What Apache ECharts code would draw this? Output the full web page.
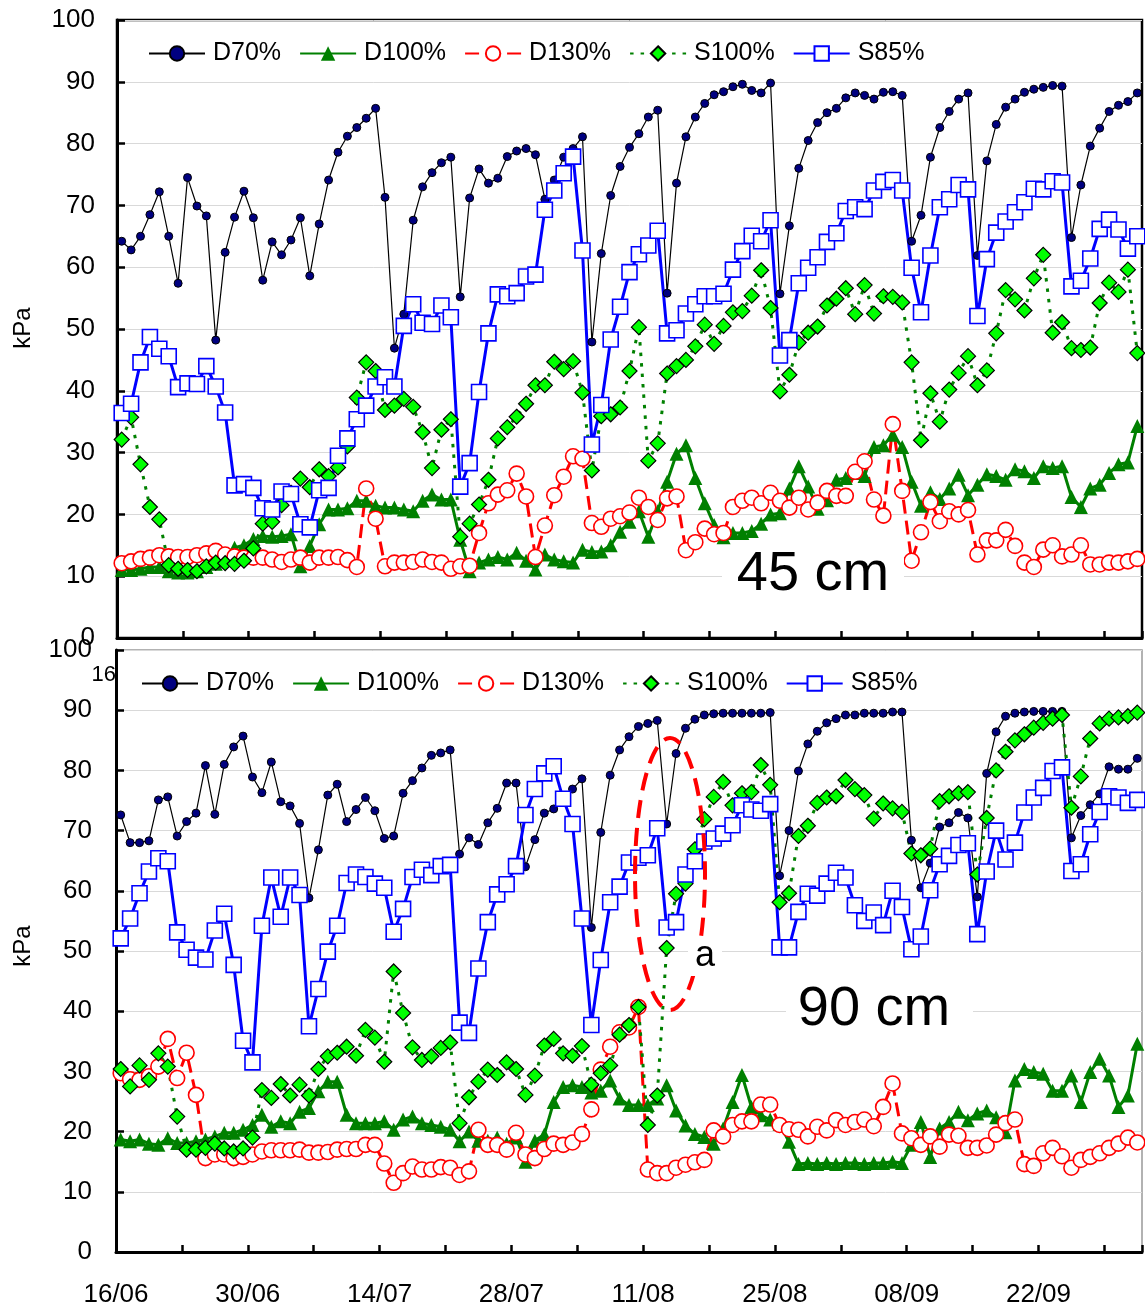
<!DOCTYPE html>
<html>
<head>
<meta charset="utf-8">
<script src="https://cdn.jsdelivr.net/npm/echarts@6/dist/echarts.min.js"></script>
<style>
html,body{margin:0;padding:0;background:#fff;}
#chart{width:1145px;height:1308px;}
</style>
</head>
<body>
<div id="chart"></div>
<script>
// x tick labels (every 14 days from 16/06)
const tickLabels = ['16/06','30/06','14/07','28/07','11/08','25/08','08/09','22/09'];
const seriesNames = ['D70%','D100%','D130%','S100%','S85%'];

// ---- 45 cm panel (daily values, day 0 = 16/06) ----
const top_D70 = [64.2,62.8,65.0,68.5,72.2,65.0,57.4,74.5,69.9,68.3,48.2,62.4,68.1,72.3,68.0,57.9,64.1,62.0,64.4,68.0,58.6,67.0,74.1,78.6,81.2,82.6,84.1,85.7,71.3,46.9,52.4,67.6,73.0,75.3,76.9,77.8,55.2,71.2,75.9,73.6,74.4,77.9,78.8,79.2,78.2,71.0,74.1,77.8,79.2,81.1,47.9,62.2,71.6,76.3,79.4,81.6,84.3,85.4,55.8,73.6,81.1,84.3,86.5,87.9,88.4,89.2,89.6,88.6,88.2,89.8,55.7,66.7,76.0,80.5,83.4,85.0,85.7,87.4,88.2,87.8,87.2,88.3,88.4,87.8,64.2,68.4,77.8,82.6,85.2,87.2,88.2,61.9,77.2,83.1,85.9,87.2,88.3,88.8,89.1,89.4,89.3,64.8,73.3,79.6,82.5,85.2,86.2,86.8,88.2];
const top_D100 = [11.0,11.0,11.2,11.5,11.5,10.8,10.6,10.6,10.8,11.5,12.0,13.0,14.6,15.0,16.0,16.5,16.4,16.5,16.8,11.6,14.9,18.4,20.8,20.8,21.0,22.2,22.2,21.4,21.1,21.1,20.8,20.5,22.2,23.2,22.4,22.4,15.9,10.8,12.2,12.7,13.1,12.7,13.8,12.5,11.1,13.5,12.7,12.4,12.2,14.3,13.9,14.0,15.0,17.2,18.8,20.5,16.4,20.5,25.3,29.8,31.2,25.9,21.8,18.3,16.3,17.0,17.0,17.3,18.5,20.0,20.2,24.2,27.8,24.5,20.9,22.3,25.6,25.9,26.7,26.2,30.9,31.2,32.9,30.9,25.3,21.4,23.6,22.5,24.2,26.4,23.1,24.8,26.5,26.2,25.6,27.3,27.0,25.9,27.8,27.5,27.8,22.8,21.2,24.2,24.8,26.7,28.1,28.4,34.3];
const top_D130 = [12.1,12.4,12.8,13.0,13.4,13.2,13.1,13.1,13.4,13.7,14.1,13.5,13.2,13.0,13.0,13.0,12.7,12.3,12.7,13.0,12.2,13.0,13.0,13.1,12.6,11.5,24.2,19.3,11.6,12.2,12.2,12.3,12.7,12.3,12.2,11.2,11.6,11.7,17.0,21.8,23.2,23.9,26.6,22.9,13.1,18.2,23.1,26.1,29.4,29.0,18.6,18.0,19.3,19.7,20.3,22.7,21.2,19.1,22.6,22.9,14.2,15.5,17.7,16.8,17.0,21.2,22.2,22.7,21.8,23.5,22.2,21.1,22.7,20.8,21.9,23.8,23.0,23.0,26.9,28.6,22.4,19.8,34.6,23.8,12.5,17.1,22.0,18.9,20.5,20.0,20.7,13.5,15.8,15.8,17.5,14.9,12.2,11.5,14.3,15.0,13.2,13.5,15.0,11.9,11.9,12.2,12.2,12.4,12.8];
const top_S100 = [32.1,35.7,28.1,21.2,19.2,11.8,11.2,11.0,10.8,11.6,12.2,12.1,12.0,12.5,14.5,18.5,18.8,21.5,23.5,25.8,24.4,27.3,26.2,27.6,31.0,38.9,44.6,43.2,36.9,37.6,38.7,37.4,33.3,27.5,33.7,35.4,16.4,18.5,21.6,25.6,32.3,34.1,35.8,37.9,40.9,40.9,44.7,43.5,44.8,39.7,27.1,35.9,36.2,37.3,43.2,50.3,28.7,31.5,42.8,44.0,45.0,47.2,50.7,47.6,50.5,52.7,52.9,55.4,59.5,53.4,39.9,42.6,47.8,49.4,50.4,53.8,54.9,56.6,52.4,57.1,52.5,55.3,55.2,54.3,44.6,32.0,39.6,35.0,40.2,42.9,45.6,40.9,43.3,49.3,56.3,54.8,53.0,58.2,62.0,49.4,51.1,46.9,46.6,47.0,54.2,57.5,56.0,59.6,46.1];
const top_S85 = [36.4,37.9,44.6,48.7,46.8,45.6,40.6,41.2,41.1,44.0,40.7,36.5,24.7,24.9,24.3,21.0,20.8,23.7,23.3,18.4,17.9,23.9,24.3,29.5,32.3,35.4,37.6,40.7,42.2,40.7,50.5,54.0,51.0,50.8,53.8,51.9,24.5,28.3,39.8,49.3,55.6,55.3,55.8,58.5,58.8,69.3,72.4,75.2,77.9,62.7,31.3,37.7,48.3,53.6,59.2,62.1,63.5,65.9,49.3,49.8,52.5,54.0,55.3,55.3,55.7,59.6,62.6,65.1,64.2,67.6,45.7,48.2,57.4,59.9,61.6,64.1,65.5,69.1,69.7,69.4,72.4,73.8,74.1,72.4,59.9,52.7,61.9,69.7,71.0,73.3,72.6,52.1,61.3,65.6,67.4,68.9,70.5,72.7,72.6,73.9,73.7,56.9,57.8,61.4,66.2,67.7,66.1,63.0,65.0];

// ---- 90 cm panel ----
const bot_D70 = [72.6,68.0,68.0,68.3,75.1,75.6,69.1,71.5,72.9,80.8,72.7,81.0,83.9,85.7,78.9,76.3,81.4,74.8,74.1,71.2,58.8,66.8,75.9,77.7,71.5,73.5,75.5,73.3,68.7,69.1,76.2,78.3,80.4,82.5,82.9,83.4,66.1,68.8,67.7,71.3,73.7,77.9,77.9,64.0,68.5,72.9,73.6,75.0,76.9,78.6,53.9,69.7,79.2,83.4,85.6,87.3,87.8,88.3,71.1,82.8,87.0,88.5,89.2,89.4,89.5,89.5,89.5,89.5,89.5,89.6,62.5,70.0,79.9,84.4,86.5,87.9,88.6,89.2,89.2,89.5,89.5,89.5,89.7,89.7,68.4,60.5,64.6,70.6,71.3,73.0,72.1,59.0,79.5,86.4,89.0,89.5,89.7,89.8,89.8,89.8,89.8,68.8,72.5,74.3,76.1,80.6,80.2,80.2,82.0];
const bot_D100 = [18.7,18.4,18.7,18.0,17.8,18.9,18.1,18.1,18.4,18.7,19.2,19.8,19.8,20.3,21.1,22.8,20.8,21.7,21.4,23.3,23.9,26.7,28.3,28.3,22.8,21.4,21.4,21.4,21.7,20.3,22.0,22.5,21.4,21.1,20.8,20.3,18.4,20.0,18.5,18.5,19.0,18.0,19.0,15.0,18.5,19.5,24.9,27.4,27.7,27.4,26.5,26.8,28.5,25.5,24.4,24.4,24.4,25.5,27.7,23.5,21.0,19.6,19.1,18.0,20.5,24.9,29.4,24.1,22.7,22.0,21.3,18.3,14.6,14.8,14.6,14.8,14.6,14.8,14.8,14.6,14.8,14.8,15.0,14.8,17.8,21.6,15.8,20.5,21.6,23.3,21.9,23.0,23.5,22.4,19.9,28.5,30.4,29.9,29.6,26.8,26.8,29.3,24.9,29.9,32.1,29.3,24.1,26.0,34.6];
const bot_D130 = [29.7,28.7,28.6,29.2,30.8,35.4,28.9,33.1,26.1,15.6,16.2,16.2,15.6,15.8,16.2,16.7,16.9,16.9,16.9,17.0,16.5,16.5,16.6,17.0,17.1,17.1,17.8,17.8,14.7,11.5,13.1,14.2,13.7,13.7,14.1,14.0,12.8,13.4,20.3,17.8,17.8,17.0,19.8,16.2,15.6,17.1,18.0,17.8,18.2,19.6,23.7,30.3,34.1,36.5,37.3,40.7,13.7,13.1,13.1,14.0,14.5,14.9,15.3,20.2,19.2,21.1,21.7,21.7,24.5,24.5,21.1,20.4,20.3,19.2,20.8,20.2,21.9,21.1,21.6,22.0,20.9,24.1,28.0,19.7,18.9,17.8,19.2,17.5,19.5,19.3,17.3,17.3,17.7,19.5,21.4,22.0,14.6,14.3,16.4,17.3,15.9,14.0,15.3,15.8,16.4,17.3,18.0,19.0,18.2];
const bot_S100 = [30.4,27.5,31.0,28.6,33.0,30.8,22.5,17.0,17.0,17.3,18.0,17.2,16.7,17.2,19.0,26.9,25.6,27.9,26.0,27.8,26.0,30.4,32.5,33.1,34.1,32.6,36.9,35.6,31.6,46.6,39.7,34.0,31.9,32.5,33.9,34.8,21.4,25.7,28.3,30.3,29.4,31.5,30.4,26.1,29.3,34.3,35.4,33.0,32.6,34.2,27.8,29.7,31.0,36.1,37.7,40.7,21.1,26.0,50.5,59.5,61.2,66.9,71.9,75.6,78.1,74.2,76.2,76.4,80.9,77.6,58.1,59.6,69.1,70.8,74.6,75.5,75.7,78.4,76.9,75.9,72.0,74.5,73.7,73.1,66.2,65.9,67.0,74.9,75.7,76.2,76.4,62.7,72.1,80.0,83.1,85.0,86.0,87.1,87.9,88.6,89.2,73.8,79.0,85.3,87.8,88.6,88.8,89.0,89.6];
const bot_S85 = [52.1,55.4,59.6,63.2,65.4,64.9,53.1,50.2,48.9,48.6,53.4,56.2,47.7,35.1,31.5,54.2,62.2,55.7,62.2,59.3,37.5,43.7,49.9,54.2,61.3,62.7,62.3,61.2,60.5,53.2,57.0,62.3,63.5,62.6,64.1,64.3,38.1,36.4,47.1,54.8,59.4,61.1,64.1,72.6,76.9,79.5,80.7,75.3,71.1,55.4,37.7,48.5,58.1,60.7,64.7,65.5,65.9,70.4,53.9,54.8,62.7,64.9,68.2,68.7,69.5,70.9,74.2,73.5,73.3,74.4,50.6,50.6,56.5,59.5,59.2,61.2,63.0,62.2,57.6,55.0,56.4,54.3,60.0,57.3,50.3,52.4,60.1,64.4,65.8,67.6,67.9,52.8,63.2,70.0,65.2,68.0,73.0,75.5,77.1,79.9,80.5,63.3,64.4,69.4,73.1,75.7,75.5,74.6,75.1];

const FONT = 'Arial, "Liberation Sans", sans-serif';
const toXY = arr => arr.map((v, i) => [i + 0.5, v]);

const styles = {
  'D70%':  {symbol:'circle', symbolSize:8, itemStyle:{color:'#000080', borderColor:'#000', borderWidth:1}, lineStyle:{color:'#000', width:1.2}},
  'D100%': {symbol:'triangle', symbolSize:14, itemStyle:{color:'#008000', borderColor:'#008000', borderWidth:0}, lineStyle:{color:'#008000', width:3}},
  'D130%': {symbol:'circle', symbolSize:15, itemStyle:{color:'#fff', borderColor:'#ff0000', borderWidth:1.6}, lineStyle:{color:'#ff0000', width:3, type:[14,7]}},
  'S100%': {symbol:'diamond', symbolSize:15, itemStyle:{color:'#00ff00', borderColor:'#000', borderWidth:1.2}, lineStyle:{color:'#008000', width:3, type:[3.5,7]}},
  'S85%':  {symbol:'rect', symbolSize:15, itemStyle:{color:'#fff', borderColor:'#0000ff', borderWidth:1.6}, lineStyle:{color:'#0000ff', width:3}}
};

function mk(name, arr, idx) {
  const s = styles[name];
  return {
    type:'line', name:name, xAxisIndex:idx, yAxisIndex:idx, data: toXY(arr),
    symbol:s.symbol, symbolSize:s.symbolSize, showAllSymbol:true,
    itemStyle:s.itemStyle, lineStyle:s.lineStyle, emphasis:{disabled:true},
    animation:false, clip:true
  };
}

const topData = [top_D70, top_D100, top_D130, top_S100, top_S85];
const botData = [bot_D70, bot_D100, bot_D130, bot_S100, bot_S85];
const series = [];
seriesNames.forEach((n, i) => series.push(mk(n, topData[i], 0)));
seriesNames.forEach((n, i) => series.push(mk(n, botData[i], 1)));

function xAx(idx, showLabels) {
  return {
    type:'value', gridIndex:idx, min:0, max:109, interval:7,
    axisLine:{show:true, onZero:false, lineStyle:{color:'#000', width:3}},
    axisTick:{show:true, inside:true, length:7, lineStyle:{color:'#000', width:2.5}},
    axisLabel:{show:showLabels, fontSize:26, fontFamily:FONT, color:'#000', margin:30,
      formatter: v => (v % 14 === 0 && v/14 < tickLabels.length) ? tickLabels[v/14] : ''},
    splitLine:{show:false}
  };
}
function yAx(idx, margin) {
  return {
    type:'value', gridIndex:idx, min:0, max:100, interval:10,
    axisLine:{show:true, lineStyle:{color:'#000', width:3}},
    axisTick:{show:true, inside:true, length:8, lineStyle:{color:'#000', width:2.5}},
    axisLabel:{fontSize:26, fontFamily:FONT, color:'#000', margin:margin},
    splitLine:{show:true, lineStyle:{color:'#d9d9d9', width:1}}
  };
}

const legendBase = {
  data: seriesNames, itemWidth:56, itemHeight:18, itemGap:18, padding:0,
  textStyle:{fontSize:25, fontFamily:FONT, color:'#000', padding:[0,0,0,3]},
  selectedMode:false, inactiveColor:'#000'
};

const option = {
  backgroundColor:'#fff',
  animation:false,
  grid:[
    {left:117, top:20, width:1025, height:618, show:true, borderColor:'#000', borderWidth:2.5, backgroundColor:'transparent'},
    {left:116, top:650, width:1026, height:603, show:true, borderColor:'#999', borderWidth:1.5, backgroundColor:'transparent'}
  ],
  xAxis:[xAx(0,false), xAx(1,true)],
  yAxis:[yAx(0,22), yAx(1,24)],
  legend:[
    Object.assign({}, legendBase, {left:148, top:41}),
    Object.assign({}, legendBase, {left:141, top:671})
  ],
  series: series,
  graphic:[
    {type:'text', x:23, y:328, rotation:Math.PI/2, z:100, style:{text:'kPa', fontSize:24, fontFamily:FONT, fill:'#000', align:'center', verticalAlign:'middle'}},
    {type:'text', x:23, y:946, rotation:Math.PI/2, z:100, style:{text:'kPa', fontSize:24, fontFamily:FONT, fill:'#000', align:'center', verticalAlign:'middle'}},
    {type:'text', x:116, y:675, z:100, style:{text:'16', fontSize:22, fontFamily:FONT, fill:'#000', align:'right', verticalAlign:'middle'}},
    {type:'rect', z:100, shape:{x:722, y:551, width:182, height:56}, style:{fill:'#fff'}},
    {type:'text', x:813, y:575, z:101, style:{text:'45 cm', fontSize:56, fontFamily:FONT, fill:'#000', align:'center', verticalAlign:'middle'}},
    {type:'rect', z:100, shape:{x:786, y:966, width:187, height:78}, style:{fill:'#fff'}},
    {type:'text', x:874, y:1010, z:101, style:{text:'90 cm', fontSize:56, fontFamily:FONT, fill:'#000', align:'center', verticalAlign:'middle'}},
    {type:'ellipse', z:100, shape:{cx:670, cy:874, rx:35, ry:136}, style:{fill:null, stroke:'#ff0000', lineWidth:4, lineDash:[18,10]}},
    {type:'rect', z:100, shape:{x:688, y:938, width:34, height:38}, style:{fill:'#fff'}},
    {type:'text', x:705, y:956, z:101, style:{text:'a', fontSize:36, fontFamily:FONT, fill:'#000', align:'center', verticalAlign:'middle'}}
  ]
};

const chart = echarts.init(document.getElementById('chart'), null, {renderer:'canvas'});
chart.setOption(option);
</script>
</body>
</html>
